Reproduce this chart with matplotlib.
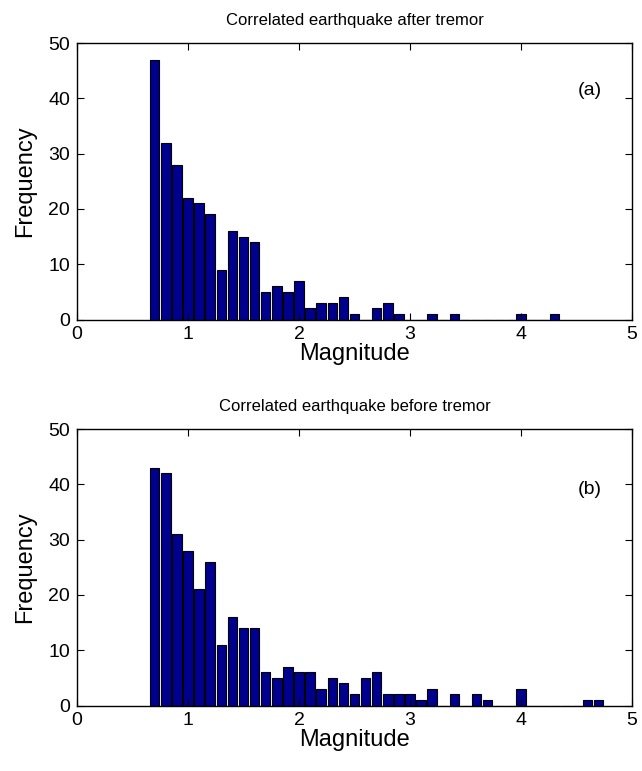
import matplotlib
matplotlib.use("Agg")
import matplotlib.pyplot as plt
import numpy as np

plt.rcParams['font.family'] = ['Liberation Sans', 'DejaVu Sans']

# Data (bin centers and counts)
centers_a = [round(0.7 + 0.1 * i, 1) for i in range(37)]
counts_a = [47, 32, 28, 22, 21, 19, 9, 16, 15, 14, 5, 6, 5, 7, 2, 3, 3, 4, 1, 0,
            2, 3, 1, 0, 0, 1, 0, 1, 0, 0, 0, 0, 0, 1, 0, 0, 1]
centers_b = [round(0.7 + 0.1 * i, 1) for i in range(41)]
counts_b = [43, 42, 31, 28, 21, 26, 11, 16, 14, 14, 6, 5, 7, 6, 6, 3, 5, 4, 2, 5,
            6, 2, 2, 2, 1, 3, 0, 2, 0, 2, 1, 0, 0, 3, 0, 0, 0, 0, 0, 1, 1]

titles = ["Correlated earthquake after tremor", "Correlated earthquake before tremor"]
panel_labels = ["(a)", "(b)"]
xticks = [0, 1, 2, 3, 4, 5]
yticks = [0, 10, 20, 30, 40, 50]

fig = plt.figure(figsize=(6.42, 7.71), dpi=100)
W, H = 642, 771
boxes = [(77, 43, 632, 319.5), (77, 429, 632, 705.5)]
label_y = [41.5, 39.0]

for i, (cx, cy) in enumerate([(centers_a, counts_a), (centers_b, counts_b)]):
    x0, y0, x1, y1 = boxes[i]
    ax = fig.add_axes([x0 / W, 1 - y1 / H, (x1 - x0) / W, (y1 - y0) / H])
    ax.bar(cx, cy, width=0.085, color='#00008F', edgecolor='black', linewidth=0.8)
    ax.set_xlim(0, 5)
    ax.set_ylim(0, 50)
    ax.set_xticks(xticks)
    ax.set_yticks(yticks)
    ax.tick_params(direction='in', top=True, right=True, length=5, width=0.8,
                   labelsize=14, pad=5)
    for s in ax.spines.values():
        s.set_linewidth(1.0)
    ax.set_title(titles[i], fontsize=12, pad=13)
    ax.set_xlabel("Magnitude", fontsize=17, labelpad=0)
    ax.set_ylabel("Frequency", fontsize=17, labelpad=9)
    ax.text(4.62, label_y[i], panel_labels[i], fontsize=14, ha='center', va='center')

fig.savefig("out.png", dpi=100)
